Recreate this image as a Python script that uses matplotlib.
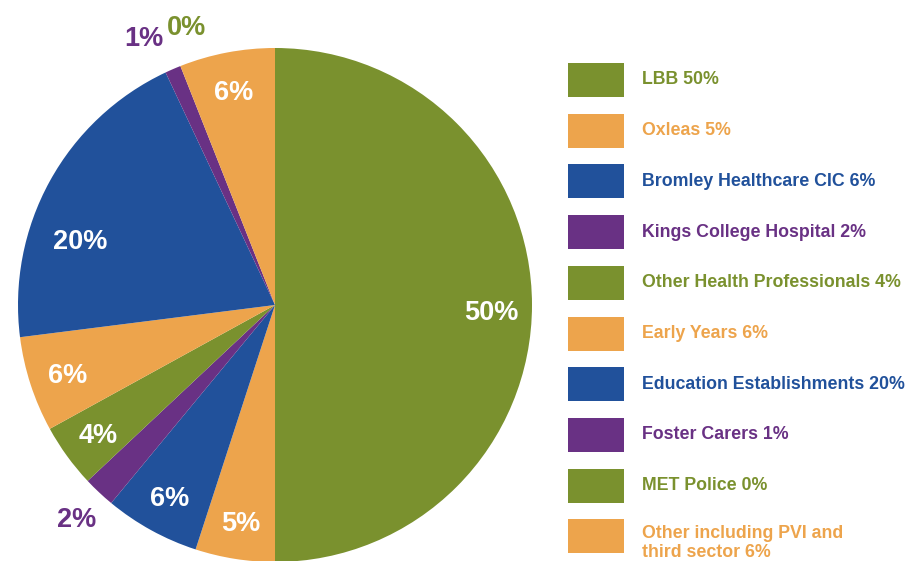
import numpy as np
import matplotlib.pyplot as plt
from matplotlib.patches import Rectangle

plt.rcParams['font.family'] = ['Liberation Sans', 'DejaVu Sans']

# data
labels = ['LBB', 'Oxleas', 'Bromley Healthcare CIC', 'Kings College Hospital',
          'Other Health Professionals', 'Early Years', 'Education Establishments',
          'Foster Carers', 'MET Police', 'Other including PVI and\nthird sector']
values = [50, 5, 6, 2, 4, 6, 20, 1, 0, 6]

green = '#7A912E'
orange = '#EDA44C'
blue = '#21519B'
purple = '#693184'
colors = [green, orange, blue, purple, green, orange, blue, purple, green, orange]

fig = plt.figure(figsize=(9.06, 5.61), dpi=100)
W, H = 906, 561

# pie centre (275, 305) px, radius 257 px
cx, cy, r = 275, 305, 257
ax = fig.add_axes([(cx - r) / W, (H - cy - r) / H, 2 * r / W, 2 * r / H])
wedges, _ = ax.pie(values, colors=colors, startangle=90, counterclock=False,
                   wedgeprops=dict(linewidth=0))
ax.set_xlim(-1, 1)
ax.set_ylim(-1, 1)
ax.set_aspect('equal')
ax.axis('off')

# small slices get an outside label in their own colour
label_r = {0: 0.84, 3: 1.13, 6: 0.80, 7: 1.165, 8: 1.145}
angle_nudge = {0: -1.3, 6: 10.0, 7: 2.6, 8: -4.0}
outside = {3, 7, 8}
for i, (w, v) in enumerate(zip(wedges, values)):
    ang = np.deg2rad((w.theta1 + w.theta2) / 2 + angle_nudge.get(i, 0))
    rr = label_r.get(i, 0.85)
    col = colors[i] if i in outside else 'white'
    ax.text(rr * np.cos(ang), rr * np.sin(ang), f'{v}%', color=col,
            fontsize=19.5, fontweight='bold', ha='center', va='center_baseline',
            clip_on=False)

# legend drawn by hand
box_x, box_w, box_h = 568, 56, 34
text_x = 642
y0, dy = 80, 50.7
for i, (lab, v) in enumerate(zip(labels, values)):
    yc = y0 + i * dy
    fig.patches.append(Rectangle((box_x / W, 1 - (yc + box_h / 2) / H),
                                 box_w / W, box_h / H,
                                 transform=fig.transFigure, facecolor=colors[i],
                                 edgecolor='none'))
    ty = yc + (7 if '\n' in lab else 0)
    fig.text(text_x / W, 1 - ty / H, f'{lab} {v}%', color=colors[i],
             fontsize=12.8, fontweight='bold', ha='left', va='center',
             linespacing=1.15)

fig.savefig('out.png', dpi=100)
